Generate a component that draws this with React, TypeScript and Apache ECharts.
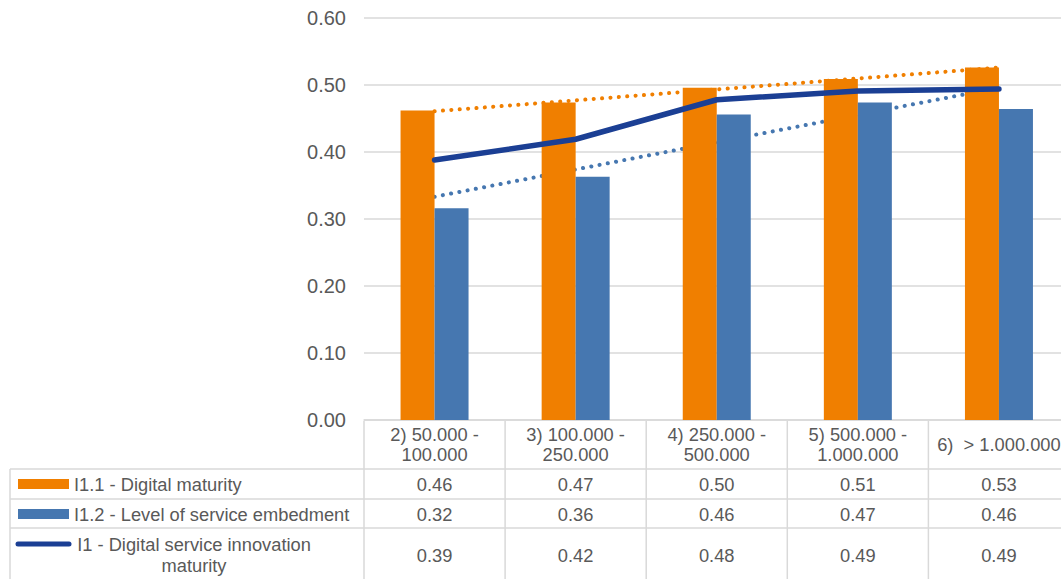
import React, { useEffect, useRef } from "react";
import * as echarts from "echarts";

// Municipality size classes (population)
const categories = [
  "2) 50.000 -\n100.000",
  "3) 100.000 -\n250.000",
  "4) 250.000 -\n500.000",
  "5) 500.000 -\n1.000.000",
  "6)  > 1.000.000",
];

const seriesNames = [
  "I1.1 - Digital maturity",
  "I1.2 - Level of service embedment",
  "I1 - Digital service innovation\nmaturity",
];

const digitalMaturity = [0.462, 0.474, 0.496, 0.509, 0.526];
const serviceEmbedment = [0.316, 0.363, 0.456, 0.474, 0.464];
const innovationMaturity = [0.388, 0.419, 0.478, 0.491, 0.494];

const yMin = 0;
const yMax = 0.6;
const yStep = 0.1;

const ORANGE = "#F07F00";
const BLUE = "#4677B0";
const NAVY = "#1B3F94";
const GRID_COLOR = "#d9d9d9";
const TEXT_COLOR = "#595959";
const FONT = '"Liberation Sans", Arial, sans-serif';

// Plot / table geometry
const W = 1061;
const H = 579;
const PLOT_LEFT = 364;
const PLOT_RIGHT = 1069.5;
const PLOT_TOP = 18;
const PLOT_BOTTOM = 420;
const CAT_W = (PLOT_RIGHT - PLOT_LEFT) / categories.length;
const TABLE_LEFT = 10;
const ROW_LINES = [469, 499, 528];
const ROW_CENTERS = [484, 514, 555];
const TABLE_FONT = 18.3;

// Least-squares linear trend evaluated at each category index
function linearTrend(values: number[]): number[] {
  const n = values.length;
  const xs = values.map((_, i) => i + 1);
  const mx = xs.reduce((a, b) => a + b, 0) / n;
  const my = values.reduce((a, b) => a + b, 0) / n;
  let sxy = 0;
  let sxx = 0;
  xs.forEach((x, i) => {
    sxy += (x - mx) * (values[i] - my);
    sxx += (x - mx) * (x - mx);
  });
  const slope = sxy / sxx;
  return xs.map((x) => +(my + slope * (x - mx)).toFixed(4));
}

function buildTable(): any[] {
  const els: any[] = [];
  const line = (x1: number, y1: number, x2: number, y2: number) => ({
    type: "line",
    silent: true,
    shape: { x1, y1, x2, y2 },
    style: { stroke: GRID_COLOR, lineWidth: 1.5 },
  });

  // horizontal row separators
  ROW_LINES.forEach((y) => els.push(line(TABLE_LEFT, y, PLOT_RIGHT + 2, y)));
  // left border of legend column
  els.push(line(TABLE_LEFT, ROW_LINES[0], TABLE_LEFT, H + 2));
  // column separators
  for (let i = 0; i <= categories.length; i++) {
    const x = PLOT_LEFT + i * CAT_W;
    els.push(line(x, PLOT_BOTTOM + 1, x, H + 2));
  }

  // legend keys
  els.push({
    type: "rect",
    silent: true,
    shape: { x: 18, y: 479, width: 51, height: 10 },
    style: { fill: ORANGE },
  });
  els.push({
    type: "rect",
    silent: true,
    shape: { x: 18, y: 509, width: 51, height: 10 },
    style: { fill: BLUE },
  });
  els.push({
    type: "line",
    silent: true,
    shape: { x1: 18, y1: 544, x2: 69, y2: 544 },
    style: { stroke: NAVY, lineWidth: 5, lineCap: "round" },
  });

  const textStyle = {
    fill: TEXT_COLOR,
    fontSize: TABLE_FONT,
    fontFamily: FONT,
  };

  // legend labels
  els.push({
    type: "text",
    silent: true,
    x: 74,
    y: ROW_CENTERS[0],
    style: { ...textStyle, text: seriesNames[0], align: "left", verticalAlign: "middle" },
  });
  els.push({
    type: "text",
    silent: true,
    x: 74,
    y: ROW_CENTERS[1],
    style: { ...textStyle, text: seriesNames[1], align: "left", verticalAlign: "middle" },
  });
  els.push({
    type: "text",
    silent: true,
    x: 194,
    y: 555,
    style: {
      ...textStyle,
      text: seriesNames[2],
      align: "center",
      verticalAlign: "middle",
      lineHeight: 21,
    },
  });

  // value cells
  const rows = [digitalMaturity, serviceEmbedment, innovationMaturity];
  rows.forEach((vals, r) => {
    vals.forEach((v, i) => {
      els.push({
        type: "text",
        silent: true,
        x: PLOT_LEFT + (i + 0.5) * CAT_W,
        y: ROW_CENTERS[r],
        style: {
          ...textStyle,
          text: v.toFixed(2),
          align: "center",
          verticalAlign: "middle",
        },
      });
    });
  });
  return els;
}

export default function App() {
  const ref = useRef<HTMLDivElement>(null);

  useEffect(() => {
    if (!ref.current) return;
    const chart = echarts.init(ref.current, undefined, { renderer: "svg" });

    const option: any = {
      animation: false,
      backgroundColor: "#ffffff",
      textStyle: { fontFamily: FONT },
      grid: {
        left: PLOT_LEFT,
        width: PLOT_RIGHT - PLOT_LEFT,
        top: PLOT_TOP,
        height: PLOT_BOTTOM - PLOT_TOP,
        containLabel: false,
        outerBoundsMode: "none",
      },
      xAxis: {
        type: "category",
        data: categories,
        axisLine: { show: true, lineStyle: { color: GRID_COLOR, width: 1.5 } },
        axisTick: { show: false },
        axisLabel: {
          interval: 0,
          margin: 24,
          color: TEXT_COLOR,
          fontSize: TABLE_FONT,
          fontFamily: FONT,
          lineHeight: 20,
          verticalAlign: "middle",
          align: "center",
        },
      },
      yAxis: {
        type: "value",
        min: yMin,
        max: yMax,
        interval: yStep,
        axisLine: { show: false },
        axisTick: { show: false },
        splitLine: { lineStyle: { color: GRID_COLOR, width: 1.5 } },
        axisLabel: {
          margin: 18,
          color: TEXT_COLOR,
          fontSize: 20,
          fontFamily: FONT,
          formatter: (v: number) => v.toFixed(2),
        },
      },
      series: [
        {
          name: "Linear (I1.1)",
          type: "line",
          data: linearTrend(digitalMaturity),
          showSymbol: false,
          z: 1,
          lineStyle: { color: ORANGE, width: 4, type: [0.1, 8.3], cap: "round" },
        },
        {
          name: "Linear (I1.2)",
          type: "line",
          data: linearTrend(serviceEmbedment),
          showSymbol: false,
          z: 1,
          lineStyle: { color: BLUE, width: 4, type: [0.1, 8.3], cap: "round" },
        },
        {
          name: seriesNames[0],
          type: "bar",
          data: digitalMaturity,
          barWidth: 34,
          barGap: "0%",
          z: 2,
          itemStyle: { color: ORANGE },
        },
        {
          name: seriesNames[1],
          type: "bar",
          data: serviceEmbedment,
          barWidth: 34,
          barGap: "0%",
          z: 2,
          itemStyle: { color: BLUE },
        },
        {
          name: seriesNames[2],
          type: "line",
          data: innovationMaturity,
          showSymbol: false,
          z: 3,
          lineStyle: { color: NAVY, width: 5.5, cap: "round", join: "round" },
        },
      ],
      graphic: { elements: buildTable() },
    };

    chart.setOption(option);
    return () => chart.dispose();
  }, []);

  return (
    <div
      ref={ref}
      style={{
        position: "fixed",
        left: 0,
        top: 0,
        width: W,
        height: H,
        overflow: "hidden",
        background: "#fff",
      }}
    />
  );
}
